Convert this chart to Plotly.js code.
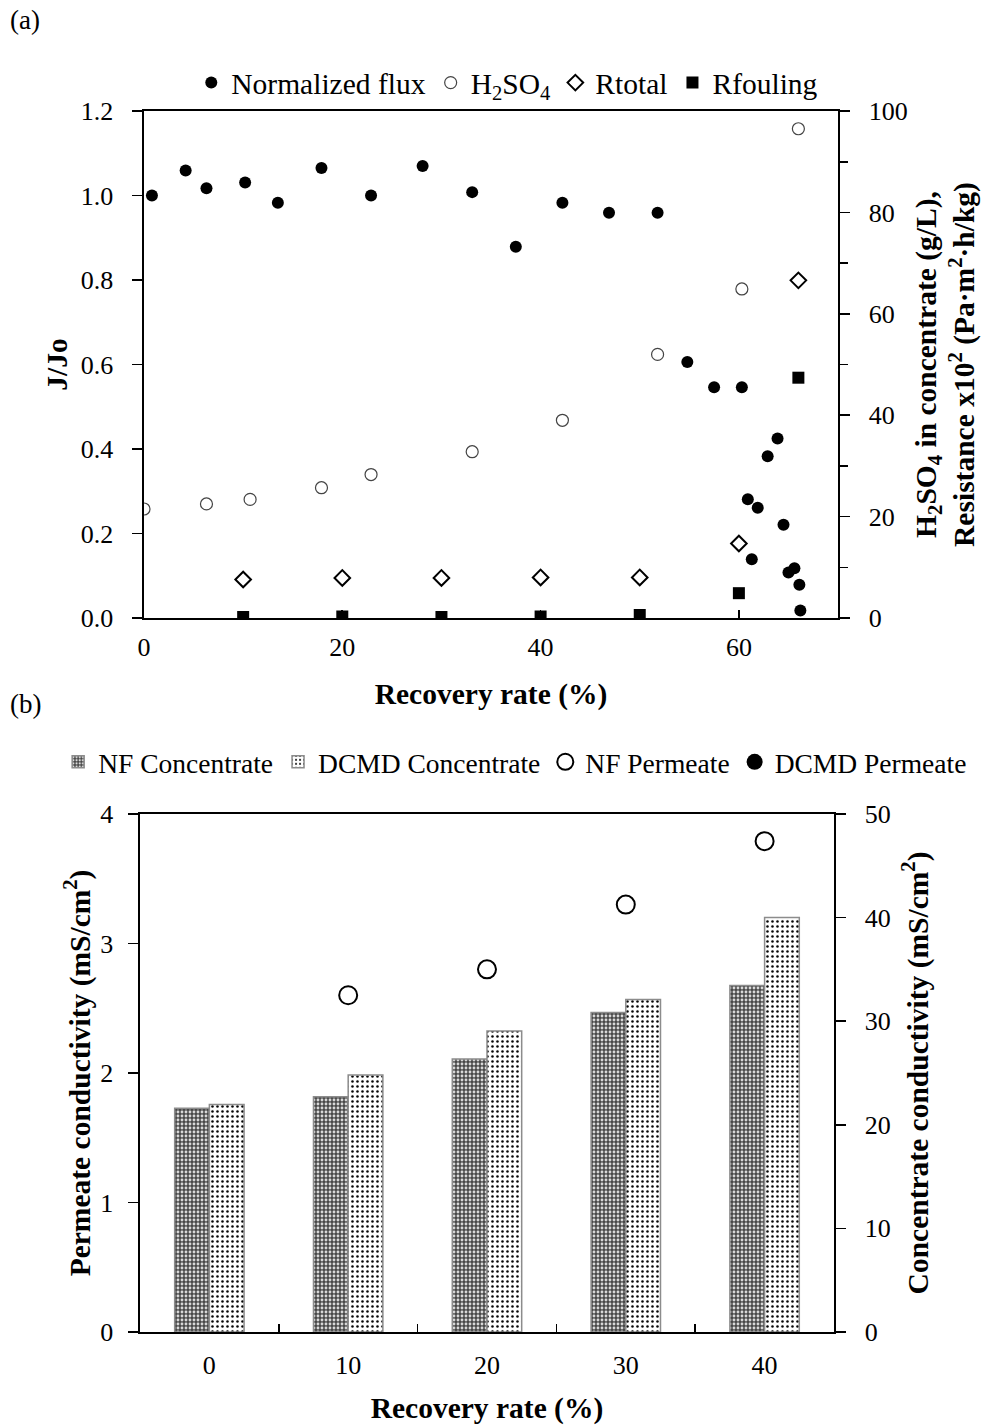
<!DOCTYPE html>
<html><head><meta charset="utf-8">
<script src="https://cdn.plot.ly/plotly-3.0.1.min.js"></script>
<style>html,body{margin:0;padding:0;background:#fff}#chart{width:985px;height:1425px}</style>
</head><body><div id="chart"></div>
<script>
// ---------- Panel (a) data ----------
const fluxX = [0.8, 4.2, 6.3, 10.2, 13.5, 17.9, 22.9, 28.1, 33.1, 37.5, 42.2, 46.9, 51.8, 54.8, 57.5, 60.3, 60.9, 61.9, 62.9, 63.9, 64.5, 61.3, 65.0, 65.6, 66.1, 66.2];
const fluxY = [1.000, 1.059, 1.017, 1.031, 0.983, 1.065, 1.000, 1.070, 1.008, 0.879, 0.983, 0.959, 0.959, 0.606, 0.546, 0.546, 0.281, 0.261, 0.383, 0.425, 0.221, 0.139, 0.108, 0.118, 0.079, 0.018];
const acidX = [0, 6.3, 10.7, 17.9, 22.9, 33.1, 42.2, 51.8, 60.3, 66.0];
const acidY = [21.5, 22.5, 23.4, 25.7, 28.3, 32.8, 39.0, 52.0, 64.9, 96.5];
const resX = [10, 20, 30, 40, 50, 60, 66];
const rTotal = [7.6, 7.9, 7.9, 8.0, 8.0, 14.7, 66.6];
const rFouling = [0.2, 0.3, 0.2, 0.3, 0.6, 4.9, 47.4];

// ---------- Panel (b) data ----------
const recCats = ['0', '10', '20', '30', '40'];
const nfConc = [21.6, 22.7, 26.35, 30.84, 33.45];
const dcmdConc = [21.96, 24.8, 29.05, 32.1, 40.0];
const nfPermCats = ['10', '20', '30', '40'];
const nfPerm = [2.6, 2.8, 3.3, 3.79];
const dcmdPerm = [0.0, 0.07, 0.08, 0.09, 0.11];

const FONT = 'Liberation Serif, Times New Roman, serif';
const TICKF = {family: FONT, size: 26, color: '#000'};
const TITLEF = {family: FONT, size: 29.5, color: '#000', weight: 'bold'};

const traces = [
  {x: fluxX, y: fluxY, type: 'scatter', mode: 'markers', name: 'Normalized flux',
   xaxis: 'x', yaxis: 'y', marker: {symbol: 'circle', size: 12, color: '#000'}, legend: 'legend'},
  {x: acidX, y: acidY, type: 'scatter', mode: 'markers', name: 'H<sub>2</sub>SO<sub>4</sub>',
   xaxis: 'x', yaxis: 'y2', marker: {symbol: 'circle-open', size: 12, color: '#444', line: {width: 1.2, color: '#444'}}, legend: 'legend'},
  {x: resX, y: rTotal, type: 'scatter', mode: 'markers', name: 'Rtotal',
   xaxis: 'x', yaxis: 'y2', marker: {symbol: 'diamond-open', size: 12, color: '#000', line: {width: 2, color: '#000'}}, legend: 'legend'},
  {x: resX, y: rFouling, type: 'scatter', mode: 'markers', name: 'Rfouling',
   xaxis: 'x', yaxis: 'y2', marker: {symbol: 'square', size: 12, color: '#000'}, legend: 'legend'},

  {x: recCats, y: nfConc, type: 'bar', name: 'NF Concentrate', xaxis: 'x3', yaxis: 'y4', legend: 'legend2',
   marker: {color: '#555555', line: {color: '#8c8c8c', width: 1.5},
            pattern: {shape: '.', bgcolor: '#474747', fgcolor: '#dcdcdc', size: 4, solidity: 0.4}}},
  {x: recCats, y: dcmdConc, type: 'bar', name: 'DCMD Concentrate', xaxis: 'x3', yaxis: 'y4', legend: 'legend2',
   marker: {color: '#ffffff', line: {color: '#8c8c8c', width: 1.5},
            pattern: {shape: '.', bgcolor: '#ffffff', fgcolor: '#000000', size: 5, solidity: 0.2}}},
  {x: nfPermCats, y: nfPerm, type: 'scatter', mode: 'markers', name: 'NF Permeate', xaxis: 'x3', yaxis: 'y3', legend: 'legend2',
   marker: {symbol: 'circle-open', size: 18, color: '#000', line: {width: 2, color: '#000'}}},
  {x: recCats, y: dcmdPerm, type: 'scatter', mode: 'markers', name: 'DCMD Permeate', xaxis: 'x3', yaxis: 'y3', legend: 'legend2',
   marker: {symbol: 'circle', size: 19, color: '#000'}}
];

const axBase = {showgrid: false, zeroline: false, linecolor: '#000', linewidth: 1.6,
  tickcolor: '#000', tickwidth: 1.6, tickfont: TICKF, automargin: false, fixedrange: true};

const layout = {
  width: 985, height: 1425,
  margin: {l: 0, r: 0, t: 0, b: 0},
  paper_bgcolor: '#fff', plot_bgcolor: '#fff',
  font: {family: FONT, color: '#000'},
  showlegend: true,
  bargap: 0.5, bargroupgap: 0, barmode: 'group',
  xaxis: Object.assign({}, axBase, {domain: [0.1462, 0.8508], anchor: 'y', range: [0, 70],
    tick0: 0, dtick: 20, ticks: 'inside', ticklen: 8, mirror: true, ticklabelstandoff: 5,
    title: {text: 'Recovery rate (%)', font: TITLEF, standoff: 22}}),
  yaxis: Object.assign({}, axBase, {domain: [0.5663, 0.9221], anchor: 'x', range: [0, 1.2],
    tick0: 0, dtick: 0.2, tickformat: '.1f', ticks: 'outside', ticklen: 10, ticklabelstandoff: 14,
    title: {text: 'J/Jo', font: TITLEF, standoff: 4}}),
  yaxis2: Object.assign({}, axBase, {domain: [0.5663, 0.9221], anchor: 'x', overlaying: 'y', side: 'right',
    range: [0, 100], tick0: 0, dtick: 20, ticks: 'outside', ticklen: 10, ticklabelstandoff: 14,
    minor: {dtick: 10, ticks: 'outside', ticklen: 8, tickcolor: '#000', tickwidth: 1.6},
    title: {text: 'H<sub>2</sub>SO<sub>4</sub> in concentrate (g/L),<br>Resistance x10<sup>2</sup> (Pa·m<sup>2</sup>·h/kg)', font: TITLEF, standoff: 8}}),
  xaxis3: Object.assign({}, axBase, {domain: [0.1421, 0.8467], anchor: 'y3', type: 'category',
    range: [-0.5, 4.5], ticks: 'inside', ticklen: 8, tickson: 'boundaries', mirror: true, ticklabelstandoff: 9,
    title: {text: 'Recovery rate (%)', font: TITLEF, standoff: 18}}),
  yaxis3: Object.assign({}, axBase, {domain: [0.0653, 0.4288], anchor: 'x3', range: [0, 4],
    tick0: 0, dtick: 1, ticks: 'outside', ticklen: 10, ticklabelstandoff: 10,
    title: {text: 'Permeate conductivity (mS/cm<sup>2</sup>)', font: TITLEF, standoff: 1}}),
  yaxis4: Object.assign({}, axBase, {domain: [0.0653, 0.4288], anchor: 'x3', overlaying: 'y3', side: 'right',
    range: [0, 50], tick0: 0, dtick: 10, ticks: 'outside', ticklen: 10, ticklabelstandoff: 14,
    title: {text: 'Concentrate conductivity (mS/cm<sup>2</sup>)', font: TITLEF, standoff: 17}}),
  legend: {orientation: 'h', x: 0.515, xanchor: 'center', y: 0.9418, yanchor: 'middle',
    font: {family: FONT, size: 29.5, color: '#000'}, bgcolor: 'rgba(0,0,0,0)', itemwidth: 30, tracegroupgap: 0},
  legend2: {orientation: 'h', x: 0.523, xanchor: 'center', y: 0.4653, yanchor: 'middle',
    font: {family: FONT, size: 27.5, color: '#000'}, bgcolor: 'rgba(0,0,0,0)', itemwidth: 30, tracegroupgap: 0},
  annotations: [
    {text: '(a)', xref: 'paper', yref: 'paper', x: 0.008, y: 1 - 20/1425, xanchor: 'left', yanchor: 'middle',
     showarrow: false, font: {family: FONT, size: 27, color: '#000'}},
    {text: '(b)', xref: 'paper', yref: 'paper', x: 0.008, y: 1 - 704/1425, xanchor: 'left', yanchor: 'middle',
     showarrow: false, font: {family: FONT, size: 27, color: '#000'}}
  ]
};

Plotly.newPlot('chart', traces, layout, {displayModeBar: false, staticPlot: true});
</script>
</body></html>
